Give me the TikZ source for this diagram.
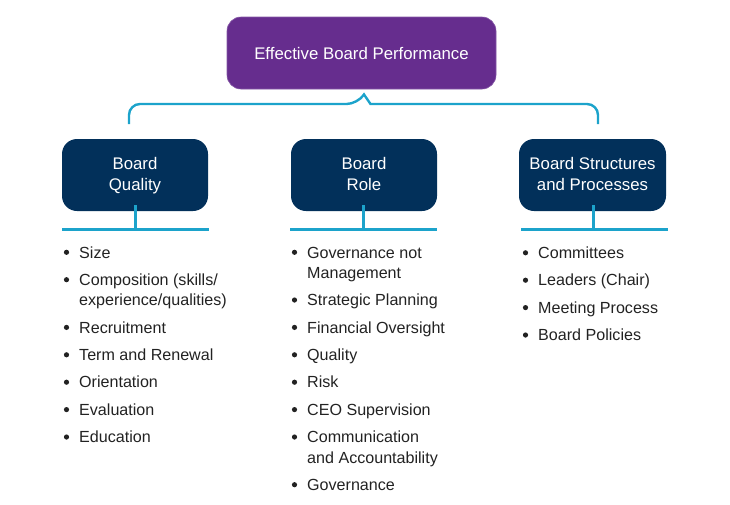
\documentclass[tikz,border=0pt]{standalone}
\usepackage{fontspec}
\setmainfont{Liberation Sans}
\definecolor{purp}{HTML}{662D8E}
\definecolor{navy}{HTML}{02305A}
\definecolor{cyanl}{HTML}{1CA3CB}
\definecolor{listc}{HTML}{222222}
\newcommand{\topstr}{\rule{0pt}{14.7pt}}
\newcommand{\botstr}{\rule[-3.8pt]{0pt}{3.8pt}}
\begin{document}
\begin{tikzpicture}[x=1pt,y=-1pt,
  topbox/.style={rectangle, rounded corners=14pt, fill=purp, draw=purp!80!white, line width=0.6pt, minimum width=269pt, minimum height=72pt, text=white, font=\fontsize{16.8}{21}\selectfont, inner sep=0pt},
  headbox/.style={rectangle, rounded corners=15pt, fill=navy, minimum width=146pt, minimum height=72pt, text=white, align=center, font=\fontsize{16.8}{21}\selectfont, inner sep=0pt},
  brk/.style={draw=cyanl, line width=2.4pt, line join=miter},
  uline/.style={draw=cyanl, line width=3pt},
  itm/.style={anchor=base west, inner sep=0pt, text=listc, font=\fontsize{16.1}{20}\selectfont},
  bul/.style={fill=listc}
]
\useasboundingbox (0,0) rectangle (730,504);

% top box
\node[topbox] (top) at (361.5,53) {Effective Board Performance};

% category boxes
\node[headbox] (q) at (135,175) {\topstr Board\\Quality\botstr};
\node[headbox] (r) at (364,175) {\topstr Board\\Role\botstr};
\node[headbox, minimum width=147pt] (s) at (592.5,175) {\topstr Board Structures\\and Processes\botstr};

% bracket
\coordinate (bl) at (129,124);
\coordinate (br) at (598,124);
\coordinate (nl) at (357.5,104);
\coordinate (np) at (364,94.5);
\coordinate (nr) at (370.5,104);
\draw[brk] (bl) [rounded corners=11pt] |- (nl) [sharp corners] -- (np) -- (nr) [rounded corners=11pt] -| (br);

% underlines and stems
\coordinate (qbl) at (62,229);  \coordinate (qbr) at (209,229); \coordinate (qst) at (135.5,229);
\coordinate (rbl) at (290,229); \coordinate (rbr) at (437,229); \coordinate (rst) at (363.5,229);
\coordinate (sbl) at (521,229); \coordinate (sbr) at (668,229); \coordinate (sst) at (593,229);
\draw[uline] (qbl) -- (qbr);
\draw[uline] (rbl) -- (rbr);
\draw[uline] (sbl) -- (sbr);
\draw[uline] ([yshift=6pt]q.south -| qst) -- (qst);
\draw[uline] ([yshift=6pt]r.south -| rst) -- (rst);
\draw[uline] ([yshift=6pt]s.south -| sst) -- (sst);

% Board Quality list
\node[itm] (q1) at (79,258) {Size};
\node[itm] (q2) at (79,285.4) {Composition (skills/};
\node[itm] (q2b) at (79,305.7) {experience/qualities)};
\node[itm] (q3) at (79,333.1) {Recruitment};
\node[itm] (q4) at (79,360.5) {Term and Renewal};
\node[itm] (q5) at (79,387.9) {Orientation};
\node[itm] (q6) at (79,415.3) {Evaluation};
\node[itm] (q7) at (79,442.7) {Education};

% Board Role list
\node[itm] (r1) at (307,258) {Governance not};
\node[itm] (r1b) at (307,278.3) {Management};
\node[itm] (r2) at (307,305.7) {Strategic Planning};
\node[itm] (r3) at (307,333.1) {Financial Oversight};
\node[itm] (r4) at (307,360.5) {Quality};
\node[itm] (r5) at (307,387.9) {Risk};
\node[itm] (r6) at (307,415.3) {CEO Supervision};
\node[itm] (r7) at (307,442.7) {Communication};
\node[itm] (r7b) at (307,463) {and Accountability};
\node[itm] (r8) at (307,490.4) {Governance};

% Board Structures list
\node[itm] (s1) at (538,258.5) {Committees};
\node[itm] (s2) at (538,285.9) {Leaders (Chair)};
\node[itm] (s3) at (538,313.3) {Meeting Process};
\node[itm] (s4) at (538,340.7) {Board Policies};

% bullets
\foreach \n in {q1,q2,q3,q4,q5,q6,q7,r1,r2,r3,r4,r5,r6,r7,r8,s1,s2,s3,s4}
  \fill[bul] ([shift={(-12.5,-5.7)}]\n.base west) circle (2.6pt);
\end{tikzpicture}
\end{document}
